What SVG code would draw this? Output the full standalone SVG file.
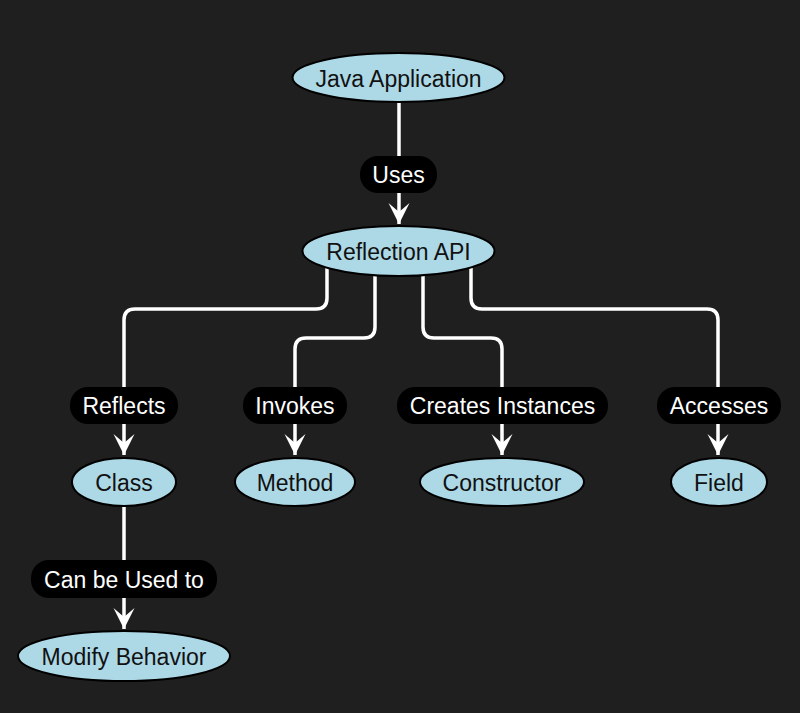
<svg xmlns="http://www.w3.org/2000/svg" width="800" height="713" viewBox="0 0 800 713">
<defs>
<style>
.node ellipse{fill:#add8e6;stroke:#000;stroke-width:2}
.node text{font-family:"Liberation Sans",Arial,sans-serif;font-size:23px;fill:#111;text-anchor:middle;dominant-baseline:central}
.edge{fill:none;stroke:#fff;stroke-width:3.5;marker-end:url(#arr)}
.lbl rect{fill:#000}
.lbl text{font-family:"Liberation Sans",Arial,sans-serif;font-size:23px;fill:#fff;text-anchor:middle;dominant-baseline:central}
</style>
<marker id="arr" markerUnits="userSpaceOnUse" markerWidth="24" markerHeight="24" viewBox="-22 -12 24 24" refX="0" refY="0" orient="auto">
<path d="M0,0 L-21,-10.5 L-12,0 L-21,10.5 Z" fill="#fff"/>
</marker>
</defs>
<rect width="800" height="713" fill="#1f1f1f"/>
<g id="connectors">
<path class="edge" d="M399,102 L399,224"/>
<path class="edge" d="M327,266 L327,298 Q327,309 316,309 L135,309 Q124,309 124,320 L124,455"/>
<path class="edge" d="M375,276 L375,327 Q375,338 364,338 L306,338 Q295,338 295,349 L295,455"/>
<path class="edge" d="M423,276 L423,327 Q423,338 434,338 L491,338 Q502,338 502,349 L502,455"/>
<path class="edge" d="M471,266 L471,298 Q471,309 482,309 L707,309 Q718,309 718,320 L718,455"/>
<path class="edge" d="M124,506 L124,629"/>
<g class="lbl" id="lbl-uses"><rect x="360" y="156" width="77" height="37" rx="18"/><text x="398.5" y="175">Uses</text></g>
<g class="lbl" id="lbl-reflects"><rect x="70" y="387" width="108" height="37" rx="18"/><text x="124" y="406">Reflects</text></g>
<g class="lbl" id="lbl-invokes"><rect x="243" y="387" width="104" height="37" rx="18"/><text x="295" y="406">Invokes</text></g>
<g class="lbl" id="lbl-creates"><rect x="397" y="387" width="211" height="37" rx="18"/><text x="502.5" y="406">Creates Instances</text></g>
<g class="lbl" id="lbl-accesses"><rect x="657" y="387" width="124" height="37" rx="18"/><text x="719" y="406">Accesses</text></g>
<g class="lbl" id="lbl-canbe"><rect x="31" y="560" width="186" height="38" rx="18"/><text x="124" y="580">Can be Used to</text></g>
</g>
<g id="java-application" class="node"><ellipse cx="398.5" cy="77.5" rx="106" ry="24.5"/><text x="398.5" y="78.5">Java Application</text></g>
<g id="reflection-api" class="node"><ellipse cx="398.5" cy="251" rx="96" ry="25"/><text x="398.5" y="252">Reflection API</text></g>
<g id="class" class="node"><ellipse cx="124" cy="482" rx="52" ry="24"/><text x="124" y="483">Class</text></g>
<g id="method" class="node"><ellipse cx="295" cy="482" rx="60" ry="24"/><text x="295" y="483">Method</text></g>
<g id="constructor" class="node"><ellipse cx="502" cy="482" rx="82" ry="24"/><text x="502" y="483">Constructor</text></g>
<g id="field" class="node"><ellipse cx="719" cy="482" rx="48" ry="24"/><text x="719" y="483">Field</text></g>
<g id="modify-behavior" class="node"><ellipse cx="124" cy="656" rx="106" ry="25"/><text x="124" y="657">Modify Behavior</text></g>
</svg>
